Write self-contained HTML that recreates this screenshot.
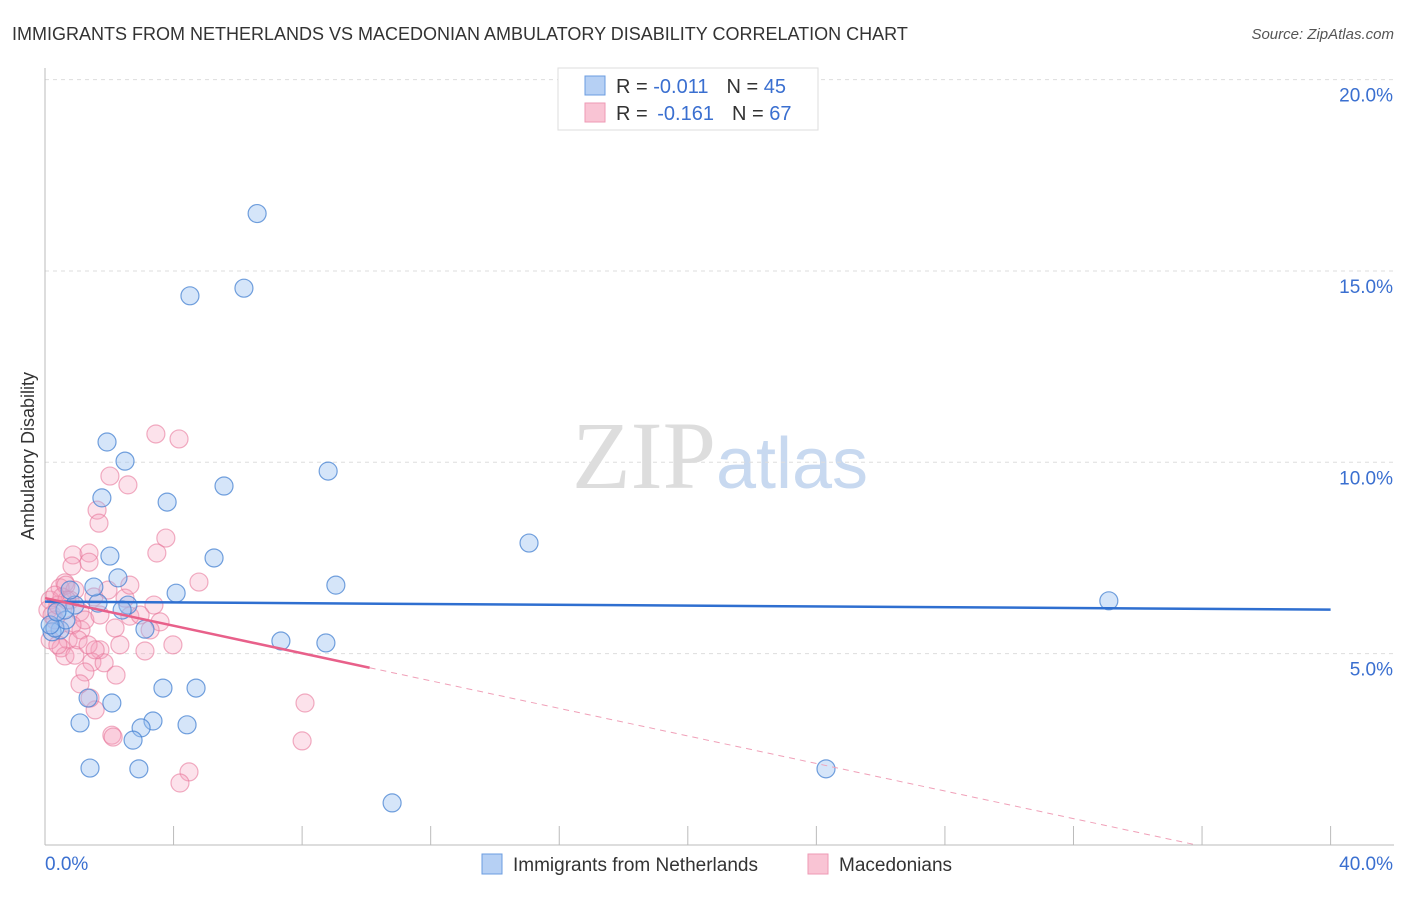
<!DOCTYPE html>
<html><head><meta charset="utf-8"><style>
body{margin:0;background:#fff;font-family:"Liberation Sans",sans-serif;}
svg text{font-family:"Liberation Sans",sans-serif;}
</style></head><body>
<svg id="chart" width="1406" height="892" xmlns="http://www.w3.org/2000/svg">
<text x="12" y="40" font-size="18" fill="#333">IMMIGRANTS FROM NETHERLANDS VS MACEDONIAN AMBULATORY DISABILITY CORRELATION CHART</text>
<text x="1394" y="39" font-size="15" fill="#555" text-anchor="end" font-style="italic">Source: ZipAtlas.com</text>
<text x="720" y="488" font-size="96" text-anchor="middle"><tspan fill="#ddd" font-family="Liberation Serif">ZIP</tspan><tspan fill="#c8d9f0" font-size="72">atlas</tspan></text>
<text transform="translate(34,456) rotate(-90)" font-size="18" fill="#333" text-anchor="middle">Ambulatory Disability</text>
<g id="grid"></g><g id="axes"></g><g id="marks"></g><g id="trends"></g>
<g>
<rect x="558" y="68" width="260" height="62" fill="#fff" stroke="#ddd"/>
<rect x="585" y="76" width="20" height="19" fill="#b6d0f4" stroke="#6b9ce0"/>
<rect x="585" y="103" width="20" height="19" fill="#f9c4d4" stroke="#ee9ab4"/>
<text x="616" y="93" font-size="20" fill="#333">R = <tspan fill="#3a6fd0">-0.011</tspan><tspan dx="18">N = </tspan><tspan fill="#3a6fd0">45</tspan></text>
<text x="616" y="120" font-size="20" fill="#333">R = <tspan dx="4" fill="#3a6fd0">-0.161</tspan><tspan dx="18">N = </tspan><tspan fill="#3a6fd0">67</tspan></text>
</g>
<g>
<rect x="482" y="854" width="20" height="20" fill="#b6d0f4" stroke="#6b9ce0"/>
<text x="513" y="871" font-size="19" fill="#333">Immigrants from Netherlands</text>
<rect x="808" y="854" width="20" height="20" fill="#f9c4d4" stroke="#ee9ab4"/>
<text x="839" y="871" font-size="19" fill="#333">Macedonians</text>
</g>
</svg>
<script>
const blueX=[6.60,4.51,6.19,1.93,2.49,1.77,3.80,5.57,8.81,15.06,2.02,5.26,2.27,4.08,9.05,33.1,2.58,1.65,1.52,2.40,3.11,0.47,0.22,0.31,0.65,7.34,8.74,3.67,4.70,2.08,1.34,3.36,2.99,1.09,4.42,2.74,1.40,2.92,24.3,10.8,0.93,0.78,0.62,0.16,0.37];
const blueY=[16.5,14.35,14.55,10.53,10.03,9.07,8.96,9.38,9.77,7.89,7.55,7.50,6.98,6.58,6.79,6.38,6.27,6.32,6.74,6.14,5.64,5.62,5.57,5.67,5.88,5.33,5.28,4.10,4.10,3.71,3.84,3.24,3.06,3.19,3.14,2.74,2.01,1.99,1.99,1.10,6.27,6.66,6.14,5.75,6.09];
const pinkX=[3.45,4.17,2.02,2.58,1.62,1.68,3.76,3.48,0.87,1.37,0.84,1.37,0.62,0.47,0.93,4.79,3.39,1.52,2.64,3.58,2.33,3.98,3.11,1.71,0.72,0.50,0.62,0.93,1.12,1.46,1.84,1.24,2.21,1.09,8.09,8.0,2.08,2.12,1.56,1.40,4.48,4.20,0.16,0.09,0.22,0.31,0.40,0.53,0.65,0.78,1.09,1.24,1.71,1.96,2.49,2.96,3.27,2.18,0.16,0.40,0.84,1.03,1.34,2.64,1.56,0.68,0.31];
const pinkY=[10.74,10.61,9.64,9.41,8.75,8.41,8.02,7.63,7.58,7.63,7.29,7.39,6.85,6.72,6.66,6.87,6.27,6.48,5.98,5.83,5.23,5.23,5.07,5.10,5.36,5.15,4.94,4.96,5.62,4.78,4.76,4.52,4.44,4.21,3.71,2.72,2.87,2.82,3.53,3.84,1.91,1.62,6.40,6.14,6.01,5.88,6.27,6.48,6.79,6.40,6.09,5.88,6.01,6.66,6.45,6.01,5.62,5.67,5.36,5.23,5.75,5.36,5.23,6.79,5.10,6.40,6.53];
const yTicks=[5,10,15,20];
const yTickLabels=["5.0%","10.0%","15.0%","20.0%"];
const xTicks=[0,4,8,12,16,20,24,28,32,36,40];
const blueTrend=[6.36,6.15];
const pinkTrend=[6.45,-0.18];
const pinkSolidEnd=10.1, pinkDashEnd=35.8;

const NS="http://www.w3.org/2000/svg";
const X=v=>45+v*32.14, Y=v=>845-v*38.27;
function mk(tag,attrs,parent){const e=document.createElementNS(NS,tag);for(const k in attrs)e.setAttribute(k,attrs[k]);document.getElementById(parent).appendChild(e);return e;}
yTicks.forEach((t,i)=>{
  const l=mk('line',{x1:45,x2:1394,y1:Y(t),y2:Y(t),stroke:'#ddd','stroke-dasharray':'4,4'},'grid');
  
  
  const tx=mk('text',{x:1393,y:Y(t)+22,'font-size':19,fill:'#3a6fd0','text-anchor':'end'},'grid');
  tx.textContent=yTickLabels[i];
  
  
});
const ax=mk('line',{x1:45,x2:1394,y1:845,y2:845,stroke:'#bbb'},'axes');


const ay=mk('line',{x1:45,x2:45,y1:68,y2:845,stroke:'#bbb'},'axes');


xTicks.forEach(t=>{
  const l=mk('line',{x1:X(t),x2:X(t),y1:826,y2:845,stroke:'#bbb'},'axes');
  
  
});
const xl0=mk('text',{x:45,y:870,'font-size':19,fill:'#3a6fd0'},'axes');xl0.textContent='0.0%';


const xl1=mk('text',{x:1393,y:870,'font-size':19,fill:'#3a6fd0','text-anchor':'end'},'axes');xl1.textContent='40.0%';


pinkX.forEach((v,i)=>{
  const c=mk('circle',{cx:X(v),cy:Y(pinkY[i]),r:9,fill:'rgba(245,160,188,0.3)',stroke:'rgba(232,120,155,0.6)','stroke-width':1.2},'marks');
  
  
});
blueX.forEach((v,i)=>{
  const c=mk('circle',{cx:X(v),cy:Y(blueY[i]),r:9,fill:'rgba(150,190,240,0.4)',stroke:'rgba(70,130,210,0.75)','stroke-width':1.2},'marks');
  
  
});
const bt=mk('line',{x1:X(0),y1:Y(blueTrend[0]),x2:X(40),y2:Y(blueTrend[1]),stroke:'#2f6fd0','stroke-width':2.5},'trends');


const pf=x=>pinkTrend[0]+pinkTrend[1]*x;
const ps=mk('line',{x1:X(0),y1:Y(pf(0)),x2:X(pinkSolidEnd),y2:Y(pf(pinkSolidEnd)),stroke:'#e8608a','stroke-width':2.5},'trends');


const pd=mk('line',{x1:X(pinkSolidEnd),y1:Y(pf(pinkSolidEnd)),x2:X(pinkDashEnd),y2:Y(pf(pinkDashEnd)),stroke:'#f0a0b8','stroke-width':1,'stroke-dasharray':'6,5'},'trends');


</script>
</body></html>
